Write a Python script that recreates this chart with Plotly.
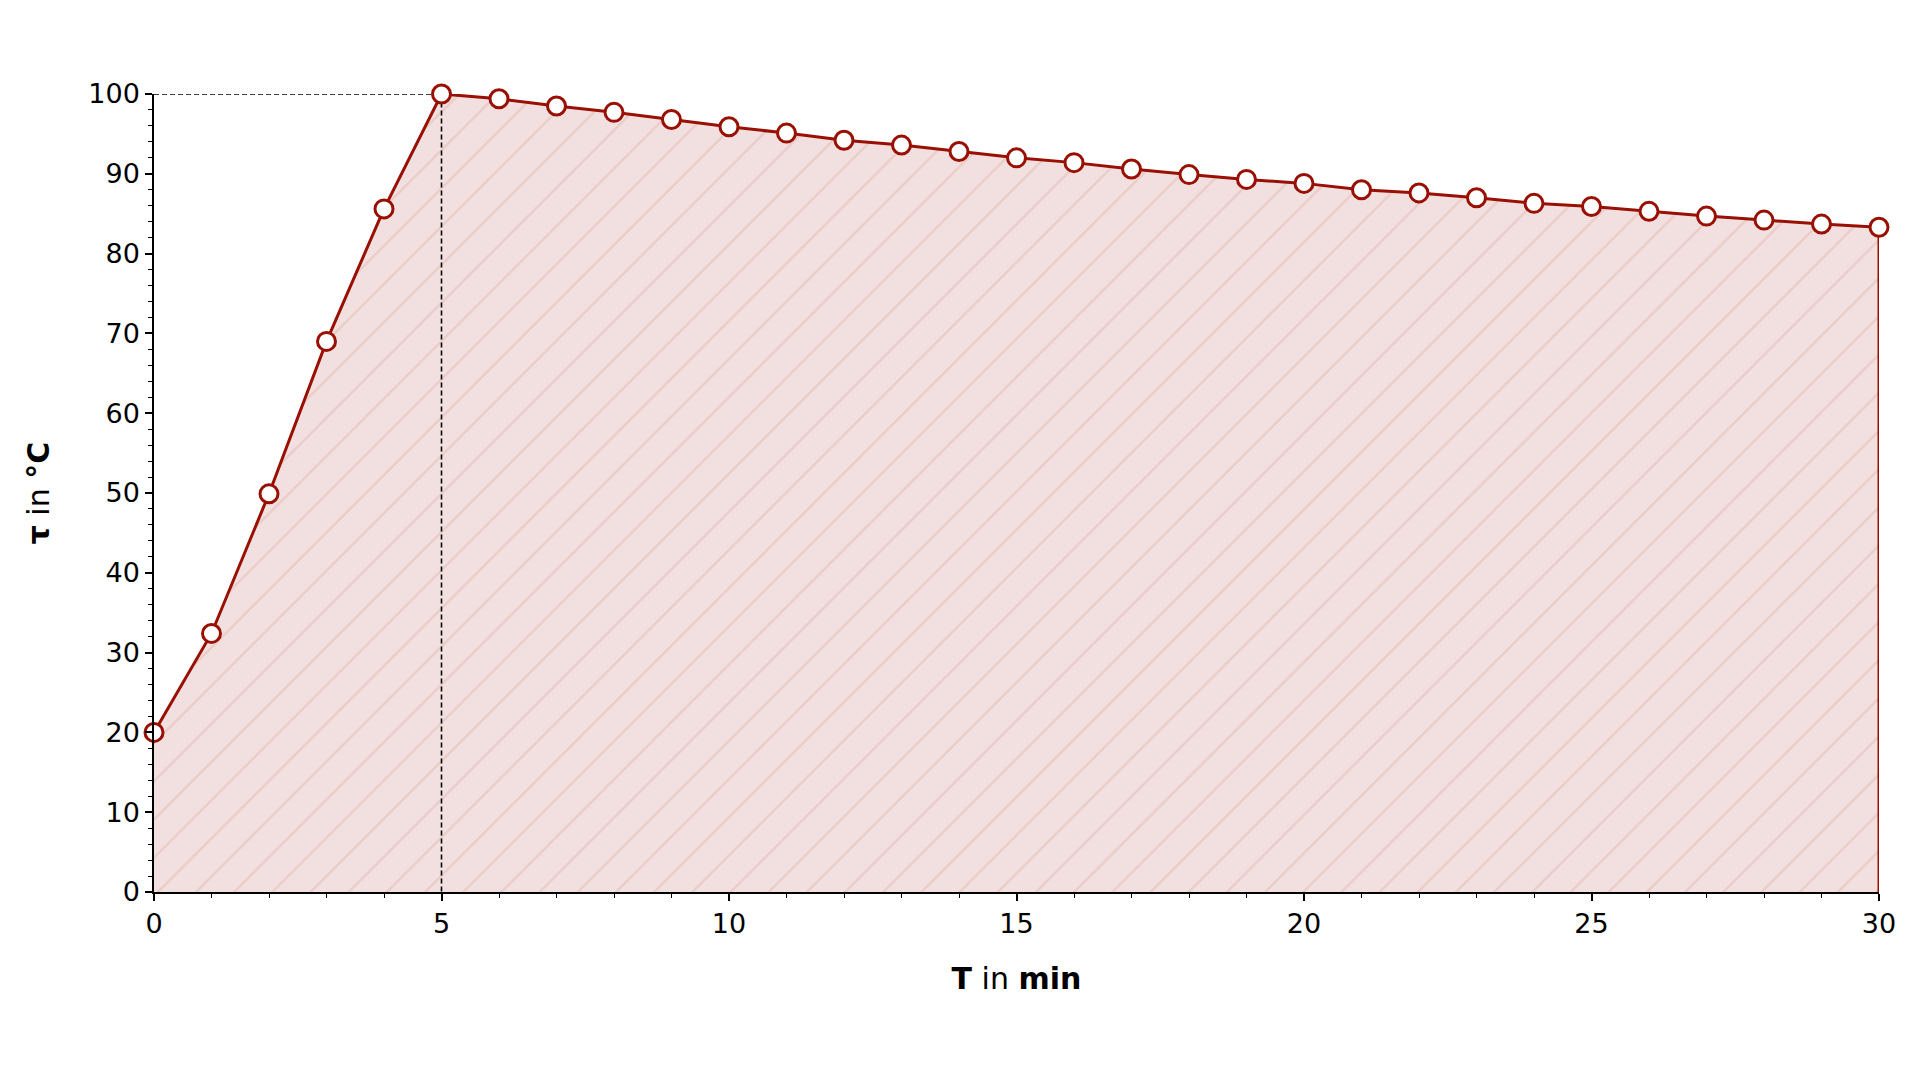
"""
Temperaturverlauf: Aufheizen und Abkühlen.
"""
import plotly.graph_objects as go

# Daten
zeit_min = list(range(0, 31))
temperatur_c = [
    20.0, 32.4, 49.9, 69.0, 85.6, 100.0, 99.4, 98.5, 97.7, 96.8,
    95.9, 95.1, 94.2, 93.6, 92.8, 92.0, 91.4, 90.6, 89.9, 89.3,
    88.8, 88.0, 87.6, 87.0, 86.3, 85.9, 85.3, 84.7, 84.2, 83.7,
    83.3,
]
x_ticks = [0, 5, 10, 15, 20, 25, 30]
y_ticks = [0, 10, 20, 30, 40, 50, 60, 70, 80, 90, 100]

line_color = "#990f02"
fill_color = "#f2e0e0"
hatch_color = "#e2b9b0"

# Maximum bestimmen für die gestrichelten Hilfslinien
t_max = max(temperatur_c)
x_max = zeit_min[temperatur_c.index(t_max)]

fig = go.Figure()

# Schraffierte Fläche unter der Kurve
fig.add_trace(
    go.Scatter(
        x=zeit_min,
        y=temperatur_c,
        mode="none",
        fill="tozeroy",
        fillcolor=fill_color,
        fillpattern=dict(
            shape="/",
            fgcolor=hatch_color,
            bgcolor=fill_color,
            size=27,
            solidity=0.09,
        ),
        hoverinfo="skip",
        showlegend=False,
    )
)

# Gestrichelte Hilfslinien zum Maximum
fig.add_trace(
    go.Scatter(
        x=[zeit_min[0], x_max, x_max],
        y=[t_max, t_max, 0],
        mode="lines",
        line=dict(color="black", width=1.6, dash="5px,3px"),
        hoverinfo="skip",
        showlegend=False,
        cliponaxis=False,
    )
)

# Rechter Rand der Fläche
fig.add_trace(
    go.Scatter(
        x=[zeit_min[-1], zeit_min[-1]],
        y=[0, temperatur_c[-1]],
        mode="lines",
        line=dict(color=line_color, width=3),
        hoverinfo="skip",
        showlegend=False,
        cliponaxis=False,
    )
)

# Messkurve
fig.add_trace(
    go.Scatter(
        x=zeit_min,
        y=temperatur_c,
        mode="lines+markers",
        line=dict(color=line_color, width=3),
        marker=dict(
            size=18,
            color="white",
            line=dict(color=line_color, width=3),
        ),
        cliponaxis=False,
        showlegend=False,
        hovertemplate="T: %{x} min<br>τ: %{y:.1f} °C<extra></extra>",
    )
)

axis_common = dict(
    showgrid=False,
    zeroline=False,
    showline=True,
    linecolor="black",
    linewidth=1.5,
    ticks="outside",
    ticklen=7,
    tickwidth=1.5,
    tickcolor="black",
    tickfont=dict(family="DejaVu Sans", size=27, color="black"),
)

fig.update_layout(
    width=1920,
    height=1079,
    plot_bgcolor="white",
    paper_bgcolor="white",
    margin=dict(l=146, r=49, t=86, b=195),
    font=dict(family="DejaVu Sans", color="black"),
    xaxis=dict(
        **axis_common,
        range=[0, 30],
        tickvals=x_ticks,
        minor=dict(ticks="outside", ticklen=4, tickwidth=1.2, tickcolor="black", dtick=1),
        title=dict(
            text="<b>T</b> in <b>min</b>",
            font=dict(family="DejaVu Sans", size=30, color="black"),
            standoff=30,
        ),
    ),
    yaxis=dict(
        **axis_common,
        range=[0, 100],
        tickvals=y_ticks,
        minor=dict(ticks="outside", ticklen=4, tickwidth=1.2, tickcolor="black", dtick=2),
        title=dict(
            text="<b>τ</b> in <b>°C</b>",
            font=dict(family="DejaVu Sans", size=30, color="black"),
            standoff=30,
        ),
    ),
)

fig.write_html("out.html")
